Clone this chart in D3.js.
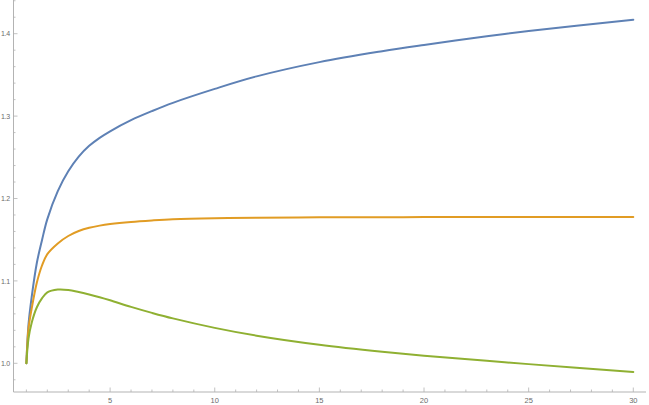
<!DOCTYPE html>
<html>
<head>
<meta charset="utf-8">
<script src="https://cdn.jsdelivr.net/npm/d3@7"></script>
<style>
  html, body { margin: 0; padding: 0; background: #ffffff; }
  svg { display: block; }
</style>
</head>
<body>
<svg id="chart" width="649" height="405"></svg>
<script>
// ---- data ----
const xs = [1, 1.1, 1.25, 1.5, 1.75, 2, 2.5, 3, 3.5, 4, 4.5, 5, 6, 7, 8, 10, 12, 15, 18, 20, 23, 25, 30];
const blue   = [1.000, 1.047, 1.080, 1.122, 1.150, 1.175, 1.209, 1.233, 1.2508, 1.2639, 1.2736, 1.2816, 1.2951, 1.3061, 1.3161, 1.3330, 1.3482, 1.3655, 1.3787, 1.3863, 1.3969, 1.4032, 1.417];
const orange = [1.000, 1.042, 1.066, 1.098, 1.119, 1.1325, 1.1455, 1.1545, 1.1605, 1.1645, 1.1671, 1.1690, 1.1716, 1.1734, 1.1748, 1.1761, 1.1767, 1.1771, 1.1773, 1.1774, 1.1775, 1.1775, 1.1776];
const green  = [1.000, 1.030, 1.049, 1.068, 1.079, 1.086, 1.0895, 1.089, 1.0865, 1.0835, 1.0802, 1.0765, 1.0685, 1.0612, 1.0545, 1.0430, 1.0335, 1.0225, 1.0140, 1.0092, 1.0030, 0.9990, 0.9894];
const seriesColors = ["#5E81B5", "#E19C24", "#8FB032"];
const xMajorTicks = [5, 10, 15, 20, 25, 30];
const xMinorTicks = d3.range(1, 31, 1);
const yMajorTicks = [1.0, 1.1, 1.2, 1.3, 1.4];
const yTickLabels = ["1.0", "1.1", "1.2", "1.3", "1.4"];
const yMinorTicks = d3.range(0.98, 1.441, 0.02);

// ---- layout ----
const svg = d3.select("#chart");
const axisX0 = 13.5, axisY0 = 392;
const x = d3.scaleLinear().domain([1, 30]).range([26.4, 633.3]);
const y = d3.scaleLinear().domain([1.0, 1.4]).range([363.3, 33.7]);
const axisColor = "#b3b3b3";
const labelColor = "#6b6b6b";
const font = "Liberation Sans, Arial, sans-serif";

// axes lines
svg.append("line").attr("x1", axisX0).attr("x2", 646).attr("y1", axisY0).attr("y2", axisY0)
  .attr("stroke", axisColor).attr("stroke-width", 1);
svg.append("line").attr("x1", axisX0).attr("x2", axisX0).attr("y1", 0).attr("y2", axisY0)
  .attr("stroke", axisColor).attr("stroke-width", 1);

// x ticks
svg.append("g").selectAll("line").data(xMinorTicks).join("line")
  .attr("x1", d => x(d)).attr("x2", d => x(d))
  .attr("y1", axisY0).attr("y2", d => axisY0 - (d % 5 === 0 ? 4.5 : 2.5))
  .attr("stroke", axisColor).attr("stroke-width", 0.8);
svg.append("g").selectAll("text").data(xMajorTicks).join("text")
  .attr("x", d => x(d)).attr("y", 403)
  .attr("text-anchor", "middle")
  .attr("font-family", font).attr("font-size", 7.5).attr("fill", labelColor)
  .text(d => d);

// y ticks
svg.append("g").selectAll("line").data(yMinorTicks).join("line")
  .attr("x1", axisX0).attr("x2", (d) => axisX0 + (Math.abs(Math.round(d * 10) - d * 10) < 1e-6 ? 4 : 2))
  .attr("y1", d => y(d)).attr("y2", d => y(d))
  .attr("stroke", axisColor).attr("stroke-width", 0.8);
svg.append("g").selectAll("text").data(yMajorTicks).join("text")
  .attr("x", 9.8).attr("y", d => y(d) + 2.6)
  .attr("text-anchor", "end")
  .attr("font-family", font).attr("font-size", 7).attr("letter-spacing", -0.3).attr("fill", labelColor)
  .text((d, i) => yTickLabels[i]);

// lines
const line = d3.line().x(d => x(d[0])).y(d => y(d[1])).curve(d3.curveCatmullRom.alpha(0.5));
[blue, orange, green].forEach((vals, i) => {
  svg.append("path")
    .datum(xs.map((xv, j) => [xv, vals[j]]))
    .attr("d", line)
    .attr("fill", "none")
    .attr("stroke", seriesColors[i])
    .attr("stroke-width", 2)
    .attr("stroke-linejoin", "round")
    .attr("stroke-linecap", "round");
});
</script>
</body>
</html>
